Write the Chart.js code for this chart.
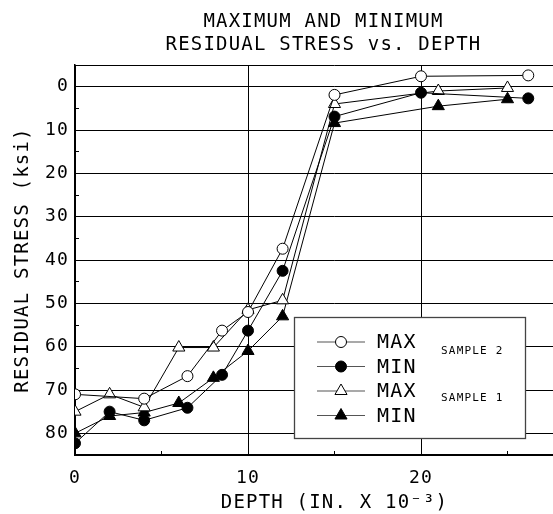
<!DOCTYPE html>
<html>
<head>
<meta charset="utf-8">
<script src="https://cdn.jsdelivr.net/npm/chart.js"></script>
<style>
html, body { margin: 0; padding: 0; overflow: hidden; background: #fff; }
canvas { display: block; }
</style>
</head>
<body>
<canvas id="stressChart" width="647" height="514"></canvas>
<script>
// depth (in. x 10^-3) and residual stress (ksi)
const max2Depth = [0, 4, 6.5, 8.5, 10, 12, 15, 20, 26.2];
const max2Stress = [71, 72, 66.8, 56.3, 52, 37.4, 1.9, -2.4, -2.6];

const min2Depth = [0, 2, 4, 6.5, 8.5, 10, 12, 15, 20, 26.2];
const min2Stress = [82.3, 75, 77, 74.1, 66.5, 56.3, 42.5, 6.9, 1.4, 2.7];

const max1Depth = [0, 2, 4, 6, 8, 10, 12, 15, 21, 25];
const max1Stress = [75, 71, 74, 60.2, 60.2, 51.5, 49.3, 4, 1, 0.3];

const min1Depth = [0, 2, 4, 6, 8, 10, 12, 15, 21, 25];
const min1Stress = [80, 76, 75.2, 73, 67.2, 61, 53, 8.4, 4.5, 2.9];

const xTickLabels = [0, 10, 20, 30];
const yTickLabels = [0, 10, 20, 30, 40, 50, 60, 70, 80];

const FONT = '"DejaVu Sans Mono", monospace';
const SPACING = '1.2px';

function toPoints(xs, ys) {
    return xs.map((x, i) => ({ x: x, y: ys[i] }));
}

function series(label, xs, ys, style, fill) {
    return {
        label: label,
        data: toPoints(xs, ys),
        showLine: true,
        fill: false,
        tension: 0,
        clip: { left: 0, top: false, right: false, bottom: 0 },
        borderColor: '#000',
        borderWidth: 1,
        pointStyle: style,
        pointRadius: style === 'triangle' ? 7 : 5.5,
        pointBackgroundColor: fill,
        pointBorderColor: '#000',
        pointBorderWidth: 1
    };
}

// monospace text in the original is spaced out a little
const letterSpacing = {
    id: 'letterSpacing',
    beforeLayout(chart) { chart.ctx.letterSpacing = SPACING; },
    beforeDraw(chart) { chart.ctx.letterSpacing = SPACING; }
};

function drawMarker(ctx, style, x, y, r, fill) {
    ctx.beginPath();
    if (style === 'triangle') {
        ctx.moveTo(x, y - r);
        ctx.lineTo(x + r * 0.866, y + r * 0.5);
        ctx.lineTo(x - r * 0.866, y + r * 0.5);
        ctx.closePath();
    } else {
        ctx.arc(x, y, r, 0, Math.PI * 2);
    }
    ctx.fillStyle = fill;
    ctx.fill();
    ctx.lineWidth = 1;
    ctx.strokeStyle = '#000';
    ctx.stroke();
}

// boxed legend with the sample names beside each pair
const legendBox = {
    id: 'legendBox',
    afterDraw(chart) {
        const ctx = chart.ctx;
        ctx.save();
        ctx.letterSpacing = SPACING;
        ctx.fillStyle = '#fff';
        ctx.fillRect(294, 317, 231, 121);
        ctx.strokeStyle = '#444';
        ctx.lineWidth = 1.3;
        ctx.strokeRect(294.5, 317.5, 231, 121);

        chart.data.datasets.forEach((ds, i) => {
            const y = 342 + i * 24.5;
            ctx.beginPath();
            ctx.moveTo(317, y);
            ctx.lineTo(365, y);
            ctx.strokeStyle = '#555';
            ctx.lineWidth = 1.2;
            ctx.stroke();
            drawMarker(ctx, ds.pointStyle, 341, y, ds.pointStyle === 'triangle' ? 7 : 5.5, ds.pointBackgroundColor);

            ctx.fillStyle = '#000';
            ctx.font = '20px ' + FONT;
            ctx.textAlign = 'left';
            ctx.textBaseline = 'middle';
            ctx.fillText(ds.label, 377, y + 1);
        });

        ctx.font = '11px ' + FONT;
        ctx.fillText('SAMPLE 2', 441, 351);
        ctx.fillText('SAMPLE 1', 441, 398);
        ctx.restore();
    }
};

function gridColor(ctx) {
    const v = ctx.tick.value;
    return (v % 10 === 0 || v === -5 || v === 85) ? '#000' : 'rgba(0,0,0,0)';
}

const ctx = document.getElementById('stressChart').getContext('2d');
new Chart(ctx, {
    type: 'line',
    data: {
        datasets: [
            series('MAX', max2Depth, max2Stress, 'circle', '#fff'),
            series('MIN', min2Depth, min2Stress, 'circle', '#000'),
            series('MAX', max1Depth, max1Stress, 'triangle', '#fff'),
            series('MIN', min1Depth, min1Stress, 'triangle', '#000')
        ]
    },
    options: {
        responsive: false,
        animation: false,
        devicePixelRatio: 1,
        layout: { padding: 0 },
        plugins: {
            legend: { display: false },
            tooltip: { enabled: false },
            title: {
                display: true,
                text: ['MAXIMUM AND MINIMUM', 'RESIDUAL STRESS vs. DEPTH'],
                color: '#000',
                font: { family: FONT, size: 19, weight: 'normal', lineHeight: '23px' },
                padding: { top: 11, bottom: 8 }
            }
        },
        scales: {
            x: {
                type: 'linear',
                min: 0,
                max: 30,
                afterFit(scale) { scale.height = 59; },
                ticks: {
                    stepSize: 5,
                    autoSkip: false,
                    maxRotation: 0,
                    padding: 17,
                    color: '#000',
                    font: { family: FONT, size: 18 },
                    callback: v => xTickLabels.includes(v) ? String(v) : ''
                },
                grid: { color: gridColor, tickColor: '#000', tickLength: -4, lineWidth: 1 },
                border: { display: true, color: '#000', width: 1.5 },
                title: {
                    display: true,
                    text: 'DEPTH (IN. X 10\u207B\u00B3)',
                    color: '#000',
                    font: { family: FONT, size: 19 },
                    padding: { top: 0, bottom: 0 }
                }
            },
            y: {
                type: 'linear',
                reverse: true,
                min: -5,
                max: 85,
                afterFit(scale) { scale.width = 75; },
                ticks: {
                    stepSize: 5,
                    autoSkip: false,
                    padding: 10,
                    color: '#000',
                    font: { family: FONT, size: 18 },
                    callback: v => yTickLabels.includes(v) ? String(v) : ''
                },
                grid: { color: gridColor, tickColor: '#000', tickLength: -4, lineWidth: 1 },
                border: { display: true, color: '#000', width: 1.5 },
                title: {
                    display: true,
                    text: 'RESIDUAL STRESS (ksi)',
                    color: '#000',
                    font: { family: FONT, size: 19 },
                    padding: { top: 12, bottom: 0 }
                }
            },
            // right frame of the plot, which lies past the cropped edge
            yRight: {
                type: 'linear',
                position: 'right',
                reverse: true,
                min: -5,
                max: 85,
                afterFit(scale) { scale.width = 53; },
                ticks: { display: false },
                grid: { display: false },
                border: { display: true, color: '#000', width: 1.5 }
            }
        }
    },
    plugins: [letterSpacing, legendBox]
});
</script>
</body>
</html>
